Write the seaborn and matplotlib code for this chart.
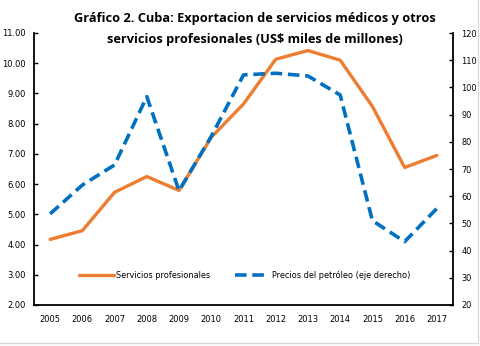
import matplotlib
matplotlib.use("Agg")
import matplotlib.pyplot as plt
import seaborn as sns
import pandas as pd
from matplotlib.lines import Line2D

years = ["2005", "2006", "2007", "2008", "2009", "2010", "2011",
         "2012", "2013", "2014", "2015", "2016", "2017"]
servicios = [4.17, 4.46, 5.73, 6.25, 5.79, 7.55, 8.65,
             10.13, 10.42, 10.1, 8.57, 6.55, 6.95]
petroleo = [53.5, 64.1, 71.5, 96.6, 62.0, 82.0, 104.6,
            105.2, 104.2, 97.2, 51.0, 43.3, 55.5]
left_ticks = [2, 3, 4, 5, 6, 7, 8, 9, 10, 11]
right_ticks = [20, 30, 40, 50, 60, 70, 80, 90, 100, 110, 120]

title = "Gráfico 2. Cuba: Exportacion de servicios médicos y otros\nservicios profesionales (US$ miles de millones)"
lab1 = "Servicios profesionales"
lab2 = "Precios del petróleo (eje derecho)"

sns.set_style("white")
plt.rcParams['font.family'] = ['DejaVu Sans']
plt.rcParams['text.color'] = 'black'
plt.rcParams['xtick.color'] = 'black'
plt.rcParams['ytick.color'] = 'black'

orange = "#ED7D31"
blue = "#0070C0"

df = pd.DataFrame({"x": range(len(years)), "serv": servicios, "pet": petroleo})

fig = plt.figure(figsize=(4.8, 3.46), dpi=100)
ax = fig.add_axes([34/480, 1 - 305/346, (453 - 34)/480, (305 - 33)/346])
ax2 = ax.twinx()

sns.lineplot(data=df, x="x", y="serv", ax=ax, color=orange, linewidth=2.4)
sns.lineplot(data=df, x="x", y="pet", ax=ax2, color=blue, linewidth=2.6,
             linestyle=(0, (3.2, 1.6)))

ax.set_xlim(-0.5, len(years) - 0.5)
ax.set_ylim(2, 11)
ax2.set_ylim(20, 120)
ax.set_yticks(left_ticks)
ax.set_yticklabels([f"{v:.2f}" for v in left_ticks], fontsize=6)
ax2.set_yticks(right_ticks)
ax2.set_yticklabels([str(v) for v in right_ticks], fontsize=5.9)

ax.set_xticks([i - 0.5 for i in range(len(years) + 1)])
ax.set_xticklabels([])
ax.set_xticks(range(len(years)), minor=True)
ax.set_xticklabels(years, minor=True, fontsize=6)
ax.tick_params(axis='x', which='minor', length=0, pad=7)
ax.tick_params(axis='x', which='major', direction='in', length=3, width=1)
ax.tick_params(axis='y', direction='in', length=3, width=1, pad=6)
ax2.tick_params(axis='y', direction='in', length=3, width=1, pad=6)
ax.set_xlabel("")
ax.set_ylabel("")
ax2.set_ylabel("")

for a in (ax, ax2):
    for s in a.spines.values():
        s.set_visible(False)
ax.spines['left'].set_visible(True)
ax.spines['bottom'].set_visible(True)
ax2.spines['right'].set_visible(True)
for s in (ax.spines['left'], ax.spines['bottom'], ax2.spines['right']):
    s.set_color("black")
    s.set_linewidth(1.3)

handles = [Line2D([], [], color=orange, linewidth=2.4),
           Line2D([], [], color=blue, linewidth=2.6, linestyle=(0, (3.2, 1.6)))]
ax2.legend(handles, [lab1, lab2], loc="center", bbox_to_anchor=(0.503, 0.11),
           ncol=2, frameon=False, fontsize=5.9, handlelength=4.2,
           columnspacing=3.0, handletextpad=0.3)

fig.text(255/480, 0.965, title, ha="center", va="top", fontsize=9.2,
         fontweight="bold", family=["Open Sans", "DejaVu Sans"], linespacing=1.75)

fig.add_artist(Line2D([478/480, 478/480], [1 - 343/346, 1], color="#d9d9d9", linewidth=1))
fig.add_artist(Line2D([0, 478/480], [1 - 343/346, 1 - 343/346], color="#d9d9d9", linewidth=1))

fig.savefig("out.png", dpi=100)
